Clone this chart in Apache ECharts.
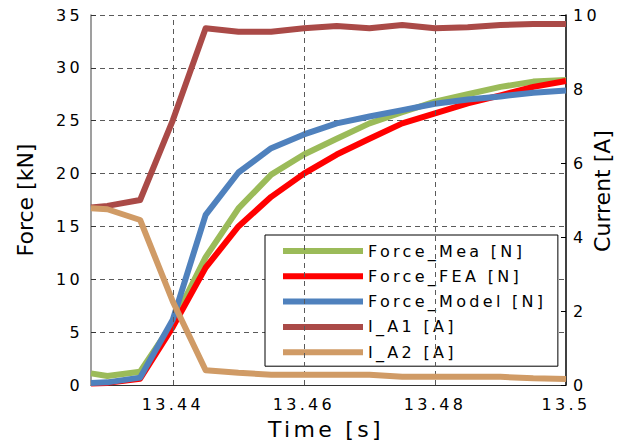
<!DOCTYPE html>
<html>
<head>
<meta charset="utf-8">
<script src="https://cdn.jsdelivr.net/npm/echarts@6/dist/echarts.min.js"></script>
<style>
html,body{margin:0;padding:0;background:#fff;}
#chart{width:619px;height:445px;}
</style>
</head>
<body>
<div id="chart"></div>
<script>
const time = [13.4275, 13.43, 13.435, 13.44, 13.445, 13.45, 13.455, 13.46, 13.465, 13.47, 13.475, 13.48, 13.485, 13.49, 13.495, 13.5];
const forceMea = [1.1, 0.85, 1.26, 5.9, 12.1, 16.7, 19.9, 21.8, 23.3, 24.75, 25.8, 26.8, 27.5, 28.2, 28.7, 28.85];
const forceFEA = [0.15, 0.2, 0.6, 5.5, 11.1, 15.0, 17.8, 20.0, 21.8, 23.3, 24.75, 25.7, 26.65, 27.4, 28.2, 28.75];
const forceModel = [0.2, 0.25, 0.7, 6.2, 16.1, 20.1, 22.4, 23.7, 24.75, 25.4, 26.0, 26.6, 27.0, 27.3, 27.65, 27.85];
const iA1 = [4.8, 4.84, 5.0, 7.16, 9.64, 9.55, 9.55, 9.64, 9.7, 9.64, 9.73, 9.64, 9.67, 9.73, 9.76, 9.76];
const iA2 = [4.78, 4.75, 4.46, 2.25, 0.4, 0.33, 0.28, 0.28, 0.28, 0.28, 0.22, 0.22, 0.22, 0.22, 0.18, 0.16];
const seriesNames = ['Force_Mea [N]', 'Force_FEA [N]', 'Force_Model [N]', 'I_A1 [A]', 'I_A2 [A]'];
const xTicks = [13.44, 13.46, 13.48, 13.5];
const xGrid = [13.44, 13.46, 13.48];
const xName = 'Time [s]';
const yLeftName = 'Force [kN]';
const yRightName = 'Current [A]';

const colors = ['#9BBB59', '#FF0000', '#4F81BD', '#AA4A47', '#D09B66'];
const FONT = 'DejaVu Sans';
const pairs = vals => time.map((t, i) => [t, vals[i]]);
const allVals = [forceMea, forceFEA, forceModel, iA1, iA2];

const chart = echarts.init(document.getElementById('chart'), null, {renderer: 'svg'});
const dashed = {color: '#5a5a5a', width: 1, type: [5, 4]};

const series = [{
  type: 'line', name: '__grid', data: [], z: 1, silent: true,
  markLine: {
    silent: true, symbol: 'none', label: {show: false},
    lineStyle: dashed,
    data: xGrid.map(v => ({xAxis: v}))
  }
}].concat(allVals.map((v, i) => ({
  type: 'line', name: seriesNames[i], data: pairs(v),
  yAxisIndex: i < 3 ? 0 : 1,
  showSymbol: false, symbol: 'none',
  lineStyle: {width: 6, color: colors[i], join: 'round'},
  itemStyle: {color: colors[i]},
  z: 2 + i
})));

chart.setOption({
  animation: false,
  grid: {left: 91, right: 53, top: 15, bottom: 60},
  xAxis: {
    type: 'value', min: 13.4275, max: 13.5,
    axisLine: {lineStyle: {color: '#333', width: 1}},
    axisTick: {show: true, inside: true, length: 4, customValues: xTicks, lineStyle: {color: '#333'}},
    axisLabel: {customValues: xTicks, color: '#000', fontSize: 16, fontFamily: FONT, margin: 11,
      formatter: v => String(+v.toFixed(4))},
    splitLine: {show: false}
  },
  yAxis: [{
    type: 'value', min: 0, max: 35, interval: 5,
    axisLine: {show: true, lineStyle: {color: '#7f7f7f', width: 1.5}},
    axisTick: {show: true, inside: true, length: 5, lineStyle: {color: '#333'}},
    axisLabel: {color: '#000', fontSize: 16, fontFamily: FONT, margin: 8},
    splitLine: {show: true, lineStyle: dashed}
  }, {
    type: 'value', min: 0, max: 10, interval: 2, position: 'right',
    axisLine: {show: true, lineStyle: {color: '#000', width: 1.5}},
    axisTick: {show: true, inside: true, length: 5, lineStyle: {color: '#000'}},
    axisLabel: {color: '#000', fontSize: 16, fontFamily: FONT, margin: 7},
    splitLine: {show: false}
  }],
  legend: {
    orient: 'vertical', left: 265, top: 235,
    padding: [8, 61, 6, 18],
    itemGap: 9.3, itemWidth: 80, itemHeight: 6,
    borderColor: '#000', borderWidth: 1, backgroundColor: '#fff',
    textStyle: {fontSize: 16, fontFamily: FONT, color: '#000'},
    data: seriesNames.map(n => ({name: n, icon: 'rect'})),
    selectedMode: false
  },
  graphic: [
    {type: 'text', left: 268, top: 418, style: {text: xName, fontSize: 22, fontFamily: FONT, fill: '#000'}},
    {type: 'text', x: 25, y: 200, rotation: Math.PI / 2, style: {text: yLeftName, fontSize: 22, fontFamily: FONT, fill: '#000', align: 'center', verticalAlign: 'middle'}},
    {type: 'text', x: 602, y: 191, rotation: Math.PI / 2, style: {text: yRightName, fontSize: 22, fontFamily: FONT, fill: '#000', align: 'center', verticalAlign: 'middle'}}
  ],
  series: series
});

function fixSpacing() {
  document.querySelectorAll('#chart text').forEach(el => {
    const t = el.textContent;
    if (t === yLeftName || t === yRightName) el.style.letterSpacing = '0px';
    else el.style.letterSpacing = '3.3px';
  });
}
fixSpacing();
chart.on('finished', fixSpacing);
requestAnimationFrame(fixSpacing);
</script>
</body>
</html>
